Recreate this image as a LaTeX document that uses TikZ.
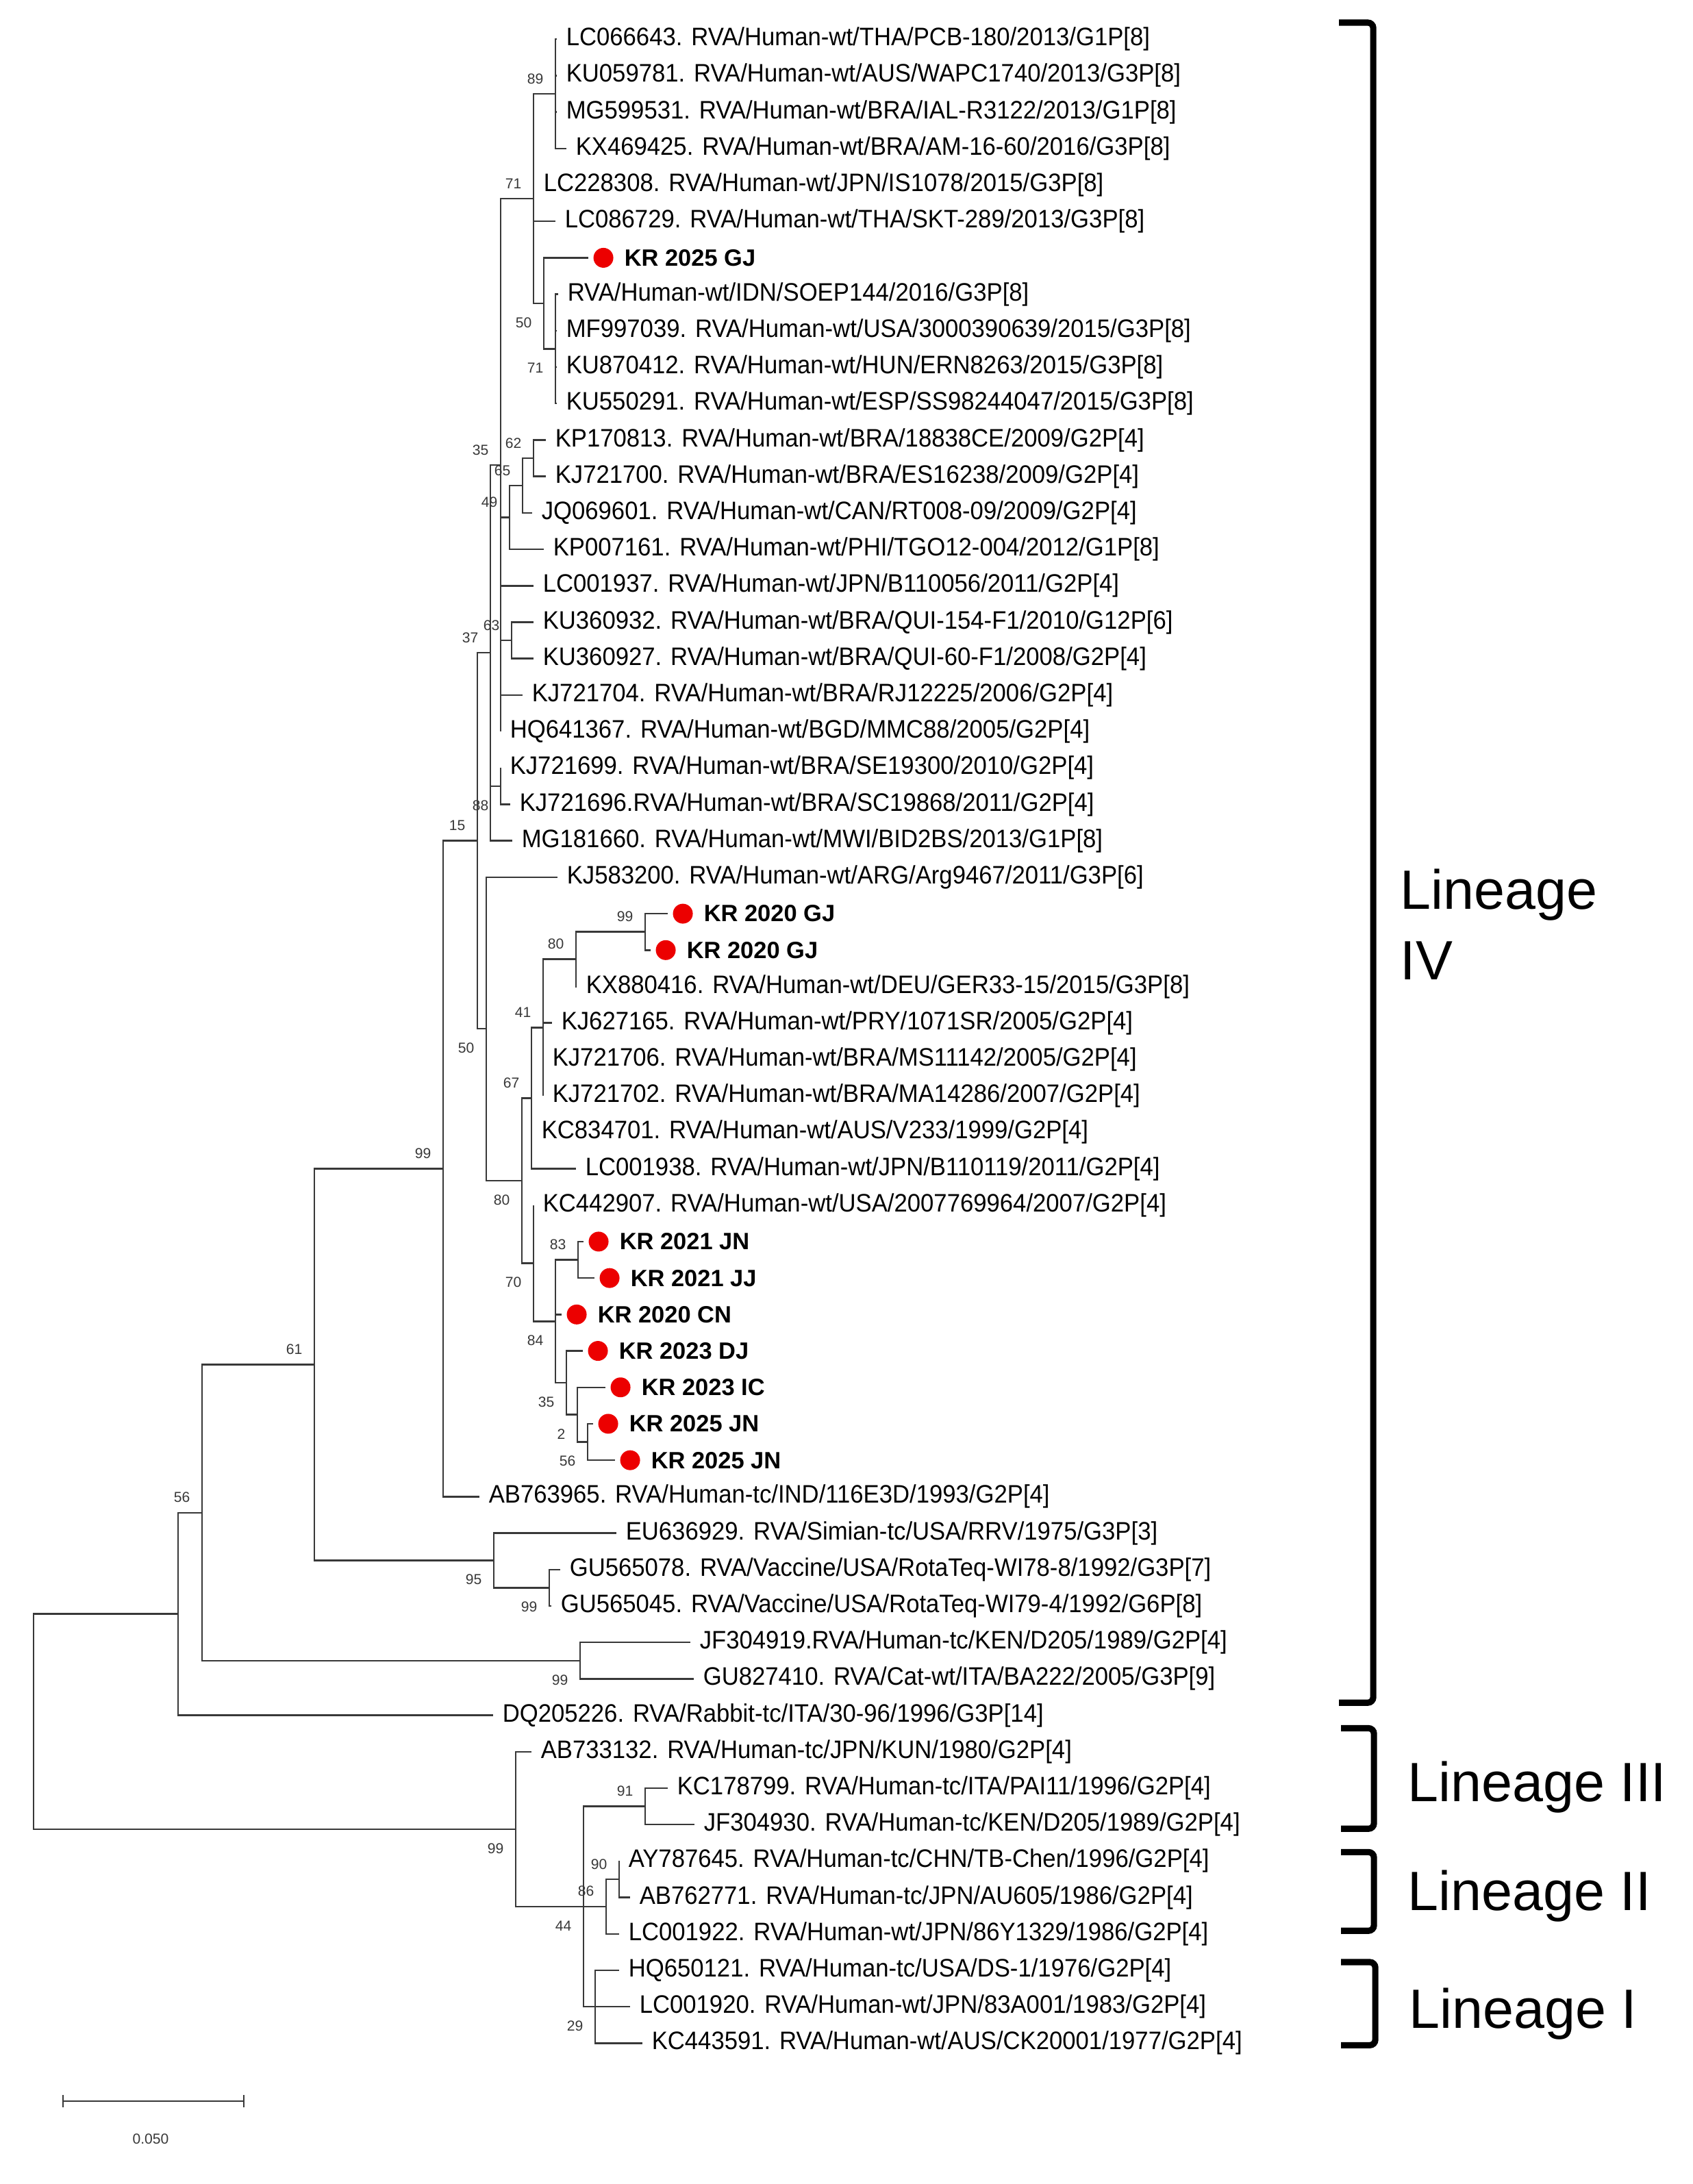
\documentclass[tikz,border=0pt]{standalone}
\usepackage{fontspec}
\setmainfont{Liberation Sans}
\newfontfamily\leaffont[FakeStretch=0.94]{Liberation Sans}
\usetikzlibrary{positioning}
\definecolor{treegray}{gray}{0.22}
\definecolor{krred}{RGB}{236,0,0}

\begin{document}
\begin{tikzpicture}[x=0.1mm,y=-5.32mm,
  branch/.style={treegray,line width=0.7pt},
  leaf/.style={anchor=west,inner xsep=1.3mm,inner ysep=0pt,font=\leaffont\fontsize{10.5}{12}\selectfont},
  krdot/.style={circle,fill=krred,minimum size=2.9mm,inner sep=0pt,outer sep=0.75mm},
  krtext/.style={inner sep=0pt,font=\fontsize{9.8}{12}\selectfont\bfseries},
  bsa/.style={anchor=south east,inner sep=0pt,xshift=-1.7mm,yshift=1.4mm,text=treegray,font=\fontsize{6}{7}\selectfont},
  bsb/.style={anchor=north east,inner sep=0pt,xshift=-1.7mm,yshift=-2.0mm,text=treegray,font=\fontsize{6}{7}\selectfont},
  bracket/.style={line width=2.6pt,rounded corners=0.8mm},
  lineage/.style={anchor=base west,inner sep=0pt,font=\fontsize{23}{29}\selectfont}]

\useasboundingbox (0,0) rectangle (2471,59.94);

\begin{scope}[yshift=-0.4mm]

%%%%%%%%%%%%%%%%%%%%%%%%%%%%%%%%%%%%%%

\coordinate (root) at (49,47.17);
\coordinate (top)  at (260,44.22);
\coordinate (n56)  at (295,41.44);
\coordinate (n61)  at (459,37.375);
\coordinate (n99a) at (647,32.0);
\coordinate (n15)  at (697,23.0);
\coordinate (n37)  at (716,17.84);
\coordinate (n35)  at (731,12.69);
\coordinate (n88)  at (731,21.5);
\coordinate (n71)  at (779,5.375);
\coordinate (n89)  at (811,2.5);
\coordinate (n50)  at (794,8.25);
\coordinate (n71b) at (811,9.5);
\coordinate (n49)  at (744,14.125);
\coordinate (n65)  at (763,13.25);
\coordinate (n62)  at (779,12.5);
\coordinate (n63)  at (747,17.5);
\coordinate (n50b) at (710,28.16);
\coordinate (n80b) at (762,32.33);
\coordinate (n67)  at (776,30.06);
\coordinate (n41)  at (793,28.125);
\coordinate (n80)  at (841,26.25);
\coordinate (n99g) at (942,25.5);
\coordinate (n70)  at (779,34.59);
\coordinate (n84)  at (811,36.19);
\coordinate (n83)  at (844,34.5);
\coordinate (n35b) at (827,37.875);
\coordinate (n2)   at (843,38.75);
\coordinate (n56b) at (858,39.5);
\coordinate (n95)  at (721,42.75);
\coordinate (n99v) at (802,43.5);
\coordinate (n99d) at (847,45.5);
\coordinate (n99l) at (753,50.125);
\coordinate (n44)  at (852,52.25);
\coordinate (n91)  at (942,49.5);
\coordinate (n86)  at (885,52.25);
\coordinate (n90)  at (904,51.5);
\coordinate (n29)  at (869,55);

%%%%%%%%%%%%%%%%%%%%%%%%%%%%%%%%%%%%%%

\node[leaf] (l1)  at (813,1)  {LC066643. RVA/Human-wt/THA/PCB-180/2013/G1P[8]};
\node[leaf] (l2)  at (813,2)  {KU059781. RVA/Human-wt/AUS/WAPC1740/2013/G3P[8]};
\node[leaf] (l3)  at (813,3)  {MG599531. RVA/Human-wt/BRA/IAL-R3122/2013/G1P[8]};
\node[leaf] (l4)  at (827,4)  {KX469425. RVA/Human-wt/BRA/AM-16-60/2016/G3P[8]};
\node[leaf] (l5)  at (780,5)  {LC228308. RVA/Human-wt/JPN/IS1078/2015/G3P[8]};
\node[leaf] (l6)  at (811,6)  {LC086729. RVA/Human-wt/THA/SKT-289/2013/G3P[8]};
\node[krdot] (d7) at (881,7) {};
\node[krtext,right=0.8mm of d7] (k7) {KR 2025 GJ};
\node[leaf] (l8)  at (815,8)  {RVA/Human-wt/IDN/SOEP144/2016/G3P[8]};
\node[leaf] (l9)  at (813,9)  {MF997039. RVA/Human-wt/USA/3000390639/2015/G3P[8]};
\node[leaf] (l10) at (813,10) {KU870412. RVA/Human-wt/HUN/ERN8263/2015/G3P[8]};
\node[leaf] (l11) at (813,11) {KU550291. RVA/Human-wt/ESP/SS98244047/2015/G3P[8]};
\node[leaf] (l12) at (797,12) {KP170813. RVA/Human-wt/BRA/18838CE/2009/G2P[4]};
\node[leaf] (l13) at (797,13) {KJ721700. RVA/Human-wt/BRA/ES16238/2009/G2P[4]};
\node[leaf] (l14) at (777,14) {JQ069601. RVA/Human-wt/CAN/RT008-09/2009/G2P[4]};
\node[leaf] (l15) at (794,15) {KP007161. RVA/Human-wt/PHI/TGO12-004/2012/G1P[8]};
\node[leaf] (l16) at (779,16) {LC001937. RVA/Human-wt/JPN/B110056/2011/G2P[4]};
\node[leaf] (l17) at (779,17) {KU360932. RVA/Human-wt/BRA/QUI-154-F1/2010/G12P[6]};
\node[leaf] (l18) at (779,18) {KU360927. RVA/Human-wt/BRA/QUI-60-F1/2008/G2P[4]};
\node[leaf] (l19) at (763,19) {KJ721704. RVA/Human-wt/BRA/RJ12225/2006/G2P[4]};
\node[leaf] (l20) at (731,20) {HQ641367. RVA/Human-wt/BGD/MMC88/2005/G2P[4]};
\node[leaf] (l21) at (731,21) {KJ721699. RVA/Human-wt/BRA/SE19300/2010/G2P[4]};
\node[leaf] (l22) at (745,22) {KJ721696.RVA/Human-wt/BRA/SC19868/2011/G2P[4]};
\node[leaf] (l23) at (748,23) {MG181660. RVA/Human-wt/MWI/BID2BS/2013/G1P[8]};
\node[leaf] (l24) at (814,24) {KJ583200. RVA/Human-wt/ARG/Arg9467/2011/G3P[6]};
\node[krdot] (d25) at (997,25) {};
\node[krtext,right=0.8mm of d25] (k25) {KR 2020 GJ};
\node[krdot] (d26) at (972,26) {};
\node[krtext,right=0.8mm of d26] (k26) {KR 2020 GJ};
\node[leaf] (l27) at (842,27) {KX880416. RVA/Human-wt/DEU/GER33-15/2015/G3P[8]};
\node[leaf] (l28) at (806,28) {KJ627165. RVA/Human-wt/PRY/1071SR/2005/G2P[4]};
\node[leaf] (l29) at (793,29) {KJ721706. RVA/Human-wt/BRA/MS11142/2005/G2P[4]};
\node[leaf] (l30) at (793,30) {KJ721702. RVA/Human-wt/BRA/MA14286/2007/G2P[4]};
\node[leaf] (l31) at (777,31) {KC834701. RVA/Human-wt/AUS/V233/1999/G2P[4]};
\node[leaf] (l32) at (841,32) {LC001938. RVA/Human-wt/JPN/B110119/2011/G2P[4]};
\node[leaf] (l33) at (779,33) {KC442907. RVA/Human-wt/USA/2007769964/2007/G2P[4]};
\node[krdot] (d34) at (874,34) {};
\node[krtext,right=0.8mm of d34] (k34) {KR 2021 JN};
\node[krdot] (d35) at (890,35) {};
\node[krtext,right=0.8mm of d35] (k35) {KR 2021 JJ};
\node[krdot] (d36) at (842,36) {};
\node[krtext,right=0.8mm of d36] (k36) {KR 2020 CN};
\node[krdot] (d37) at (873,37) {};
\node[krtext,right=0.8mm of d37] (k37) {KR 2023 DJ};
\node[krdot] (d38) at (906,38) {};
\node[krtext,right=0.8mm of d38] (k38) {KR 2023 IC};
\node[krdot] (d39) at (888,39) {};
\node[krtext,right=0.8mm of d39] (k39) {KR 2025 JN};
\node[krdot] (d40) at (920,40) {};
\node[krtext,right=0.8mm of d40] (k40) {KR 2025 JN};
\node[leaf] (l41) at (700,41) {AB763965. RVA/Human-tc/IND/116E3D/1993/G2P[4]};
\node[leaf] (l42) at (900,42) {EU636929. RVA/Simian-tc/USA/RRV/1975/G3P[3]};
\node[leaf] (l43) at (818,43) {GU565078. RVA/Vaccine/USA/RotaTeq-WI78-8/1992/G3P[7]};
\node[leaf] (l44) at (805,44) {GU565045. RVA/Vaccine/USA/RotaTeq-WI79-4/1992/G6P[8]};
\node[leaf] (l45) at (1008,45) {JF304919.RVA/Human-tc/KEN/D205/1989/G2P[4]};
\node[leaf] (l46) at (1013,46) {GU827410. RVA/Cat-wt/ITA/BA222/2005/G3P[9]};
\node[leaf] (l47) at (720,47) {DQ205226. RVA/Rabbit-tc/ITA/30-96/1996/G3P[14]};
\node[leaf] (l48) at (776,48) {AB733132. RVA/Human-tc/JPN/KUN/1980/G2P[4]};
\node[leaf] (l49) at (975,49) {KC178799. RVA/Human-tc/ITA/PAI11/1996/G2P[4]};
\node[leaf] (l50) at (1014,50) {JF304930. RVA/Human-tc/KEN/D205/1989/G2P[4]};
\node[leaf] (l51) at (904,51) {AY787645. RVA/Human-tc/CHN/TB-Chen/1996/G2P[4]};
\node[leaf] (l52) at (920,52) {AB762771. RVA/Human-tc/JPN/AU605/1986/G2P[4]};
\node[leaf] (l53) at (904,53) {LC001922. RVA/Human-wt/JPN/86Y1329/1986/G2P[4]};
\node[leaf] (l54) at (904,54) {HQ650121. RVA/Human-tc/USA/DS-1/1976/G2P[4]};
\node[leaf] (l55) at (920,55) {LC001920. RVA/Human-wt/JPN/83A001/1983/G2P[4]};
\node[leaf] (l56) at (938,56) {KC443591. RVA/Human-wt/AUS/CK20001/1977/G2P[4]};

%%%%%%%%%%%%%%%%%%%%%%%%%%%%%%%%%%%%%%

\draw[branch] (root) |- (top);  \draw[branch] (root) |- (n99l);
\draw[branch] (top) |- (n56);   \draw[branch] (top) |- (l47.west);
\draw[branch] (n56) |- (n61);   \draw[branch] (n56) |- (n99d);
\draw[branch] (n61) |- (n99a);  \draw[branch] (n61) |- (n95);
\draw[branch] (n99a) |- (n15);  \draw[branch] (n99a) |- (l41.west);
\draw[branch] (n15) |- (n37);   \draw[branch] (n15) |- (n50b);
\draw[branch] (n37) |- (n35);   \draw[branch] (n37) |- (n88);   \draw[branch] (n37) |- (l23.west);
\draw[branch] (n35) |- (n71);   \draw[branch] (n35) |- (n49);   \draw[branch] (n35) |- (l16.west);
\draw[branch] (n35) |- (n63);   \draw[branch] (n35) |- (l19.west); \draw[branch] (n35) |- (l20.west);
\draw[branch] (n71) |- (n89);   \draw[branch] (n71) |- (l5.west);  \draw[branch] (n71) |- (l6.west);
\draw[branch] (n71) |- (n50);
\draw[branch] (n89) |- (l1.west);  \draw[branch] (n89) |- (l2.west);
\draw[branch] (n89) |- (l3.west);  \draw[branch] (n89) |- (l4.west);
\draw[branch] (n50) |- (d7.west);  \draw[branch] (n50) |- (n71b);
\draw[branch] (n71b) |- (l8.west); \draw[branch] (n71b) |- (l9.west);
\draw[branch] (n71b) |- (l10.west); \draw[branch] (n71b) |- (l11.west);
\draw[branch] (n49) |- (n65);   \draw[branch] (n49) |- (l15.west);
\draw[branch] (n65) |- (n62);   \draw[branch] (n65) |- (l14.west);
\draw[branch] (n62) |- (l12.west); \draw[branch] (n62) |- (l13.west);
\draw[branch] (n63) |- (l17.west); \draw[branch] (n63) |- (l18.west);
\draw[branch] (n88) |- (l21.west); \draw[branch] (n88) |- (l22.west);
\draw[branch] (n50b) |- (l24.west); \draw[branch] (n50b) |- (n80b);
\draw[branch] (n80b) |- (n67);  \draw[branch] (n80b) |- (n70);
\draw[branch] (n67) |- (n41);   \draw[branch] (n67) |- (l31.west); \draw[branch] (n67) |- (l32.west);
\draw[branch] (n41) |- (n80);   \draw[branch] (n41) |- (l28.west);
\draw[branch] (n41) |- (l29.west); \draw[branch] (n41) |- (l30.west);
\draw[branch] (n80) |- (n99g);  \draw[branch] (n80) |- (l27.west);
\draw[branch] (n99g) |- (d25.west); \draw[branch] (n99g) |- (d26.west);
\draw[branch] (n70) |- (l33.west); \draw[branch] (n70) |- (n84);
\draw[branch] (n84) |- (n83);   \draw[branch] (n84) |- (d36.west); \draw[branch] (n84) |- (n35b);
\draw[branch] (n83) |- (d34.west); \draw[branch] (n83) |- (d35.west);
\draw[branch] (n35b) |- (d37.west); \draw[branch] (n35b) |- (n2);
\draw[branch] (n2) |- (d38.west);  \draw[branch] (n2) |- (n56b);
\draw[branch] (n56b) |- (d39.west); \draw[branch] (n56b) |- (d40.west);
\draw[branch] (n95) |- (l42.west); \draw[branch] (n95) |- (n99v);
\draw[branch] (n99v) |- (l43.west); \draw[branch] (n99v) |- (l44.west);
\draw[branch] (n99d) |- (l45.west); \draw[branch] (n99d) |- (l46.west);
\draw[branch] (n99l) |- (l48.west); \draw[branch] (n99l) |- (n44);
\draw[branch] (n44) |- (n91);   \draw[branch] (n44) |- (n86);   \draw[branch] (n44) |- (n29);
\draw[branch] (n91) |- (l49.west); \draw[branch] (n91) |- (l50.west);
\draw[branch] (n86) |- (n90);   \draw[branch] (n86) |- (l53.west);
\draw[branch] (n90) |- (l51.west); \draw[branch] (n90) |- (l52.west);
\draw[branch] (n29) |- (l54.west); \draw[branch] (n29) |- (l55.west); \draw[branch] (n29) |- (l56.west);

%%%%%%%%%%%%%%%%%%%%%%%%%%%%%%%%%%%%%%

\node[bsa] (b89)  at (n89)  {89};
\node[bsa] (b71)  at (n71)  {71};
\node[bsb] (b50)  at (n50)  {50};
\node[bsb] (b71b) at (n71b) {71};
\node[bsa] (b62)  at (n62)  {62};
\node[bsa] (b65)  at (n65)  {65};
\node[bsa] (b49)  at (n49)  {49};
\node[bsa] (b35)  at (n35)  {35};
\node[bsa] (b63)  at (n63)  {63};
\node[bsa] (b37)  at (n37)  {37};
\node[bsb] (b88)  at (n88)  {88};
\node[bsa] (b15)  at (n15)  {15};
\node[bsb] (b50b) at (n50b) {50};
\node[bsb] (b80b) at (n80b) {80};
\node[bsa] (b67)  at (n67)  {67};
\node[bsa] (b41)  at (n41)  {41};
\node[bsa] (b80)  at (n80)  {80};
\node[bsa] (b99g) at (n99g) {99};
\node[bsb] (b70)  at (n70)  {70};
\node[bsb] (b84)  at (n84)  {84};
\node[bsa] (b83)  at (n83)  {83};
\node[bsb] (b35b) at (n35b) {35};
\node[bsb] (b2)   at (n2)   {2};
\node[bsb] (b56b) at (n56b) {56};
\node[bsa] (b99a) at (n99a) {99};
\node[bsa] (b61)  at (n61)  {61};
\node[bsb] (b95)  at (n95)  {95};
\node[bsb] (b99v) at (n99v) {99};
\node[bsa] (b56)  at (n56)  {56};
\node[bsb] (b99d) at (n99d) {99};
\node[bsb] (b99l) at (n99l) {99};
\node[bsa] (b91)  at (n91)  {91};
\node[bsa] (b90)  at (n90)  {90};
\node[bsa] (b86)  at (n86)  {86};
\node[bsb] (b44)  at (n44)  {44};
\node[bsb] (b29)  at (n29)  {29};

\end{scope}

%%%%%%%%%%%%%%%%%%%%%%%%%%%%%%%%%%%%%%

\draw[bracket] (1955,0.62) -| (2005,46.73) -- (1955,46.73);
\draw[bracket] (1958,47.43) -| (2006,50.19) -- (1958,50.19);
\draw[bracket] (1958,50.83) -| (2006,52.99) -- (1958,52.99);
\draw[bracket] (1958,53.85) -| (2008,56.13) -- (1958,56.13);

\node[lineage] (lin4a) at (2044,24.96) {Lineage};
\node[lineage] (lin4b) at (2044,26.88) {IV};
\node[lineage] (lin3) at (2055,49.44) {Lineage III};
\node[lineage] (lin2) at (2055,52.43) {Lineage II};
\node[lineage] (lin1) at (2057,55.66) {Lineage I};

%%%%%%%%%%%%%%%%%%%%%%%%%%%%%%%%%%%%%%

\coordinate (sb1) at (92,57.67);
\coordinate (sb2) at (356,57.67);
\draw[branch] (sb1) -- (sb2);
\draw[branch] (92,57.5) -- (92,57.84);
\draw[branch] (356,57.5) -- (356,57.84);
\node[text=treegray,font=\fontsize{6}{7}\selectfont] (sbl) at (220,58.7) {0.050};

\end{tikzpicture}
\end{document}
